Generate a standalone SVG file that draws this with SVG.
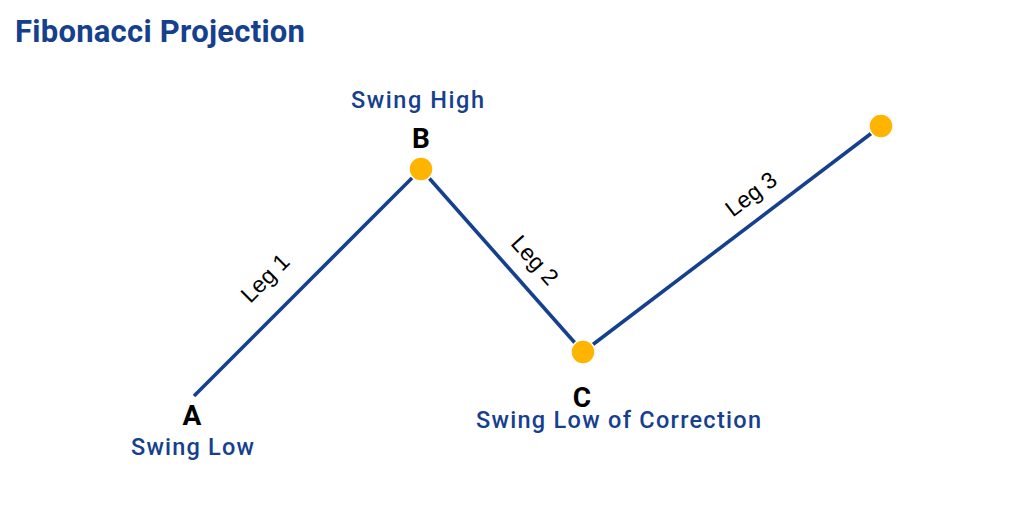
<svg xmlns="http://www.w3.org/2000/svg" width="1024" height="512" viewBox="0 0 1024 512">
<style>
.h{font-family:Roboto,"Liberation Sans",sans-serif;font-weight:700;fill:#15408e}
.t{font-family:Roboto,"Liberation Sans",sans-serif}
.blue{fill:#15408e;font-weight:500;font-size:23.500px}
.pt{fill:#000;font-weight:700;font-size:28px;text-anchor:middle}
.leg{font-family:"Liberation Sans",Arial,sans-serif;fill:#000;font-size:23px;text-anchor:middle}
.dot{fill:#ffb400;stroke:#fff;stroke-width:1.500}
.ln{fill:none;stroke:#15408e;stroke-width:3.600}
</style>
<rect width="1024" height="512" fill="#fff"/>
<text id="title" class="h" x="15" y="42" font-size="31" textLength="290" lengthAdjust="spacing">Fibonacci Projection</text>
<g id="connectors">
<path class="ln" d="M194 396L421 169"/>
<path class="ln" d="M421 169L583 352"/>
<path class="ln" d="M583 352L881 126"/>
</g>
<g id="node-a"><text class="t pt" x="192" y="425">A</text><text class="t blue" x="131" y="455" textLength="123" lengthAdjust="spacing">Swing Low</text></g>
<g id="node-b"><circle class="dot" cx="421" cy="169" r="12"/><text class="t pt" x="421" y="148">B</text><text class="t blue" x="351" y="108" textLength="133" lengthAdjust="spacing">Swing High</text></g>
<g id="node-c"><circle class="dot" cx="583" cy="352" r="12"/><text class="t pt" x="582" y="407">C</text><text class="t blue" x="476" y="428" textLength="285" lengthAdjust="spacing">Swing Low of Correction</text></g>
<g id="node-d"><circle class="dot" cx="881" cy="126" r="12"/></g>
<g id="labels">
<text class="leg" transform="translate(265 278) rotate(-45)" x="0" y="8">Leg 1</text>
<text class="leg" transform="translate(535 260) rotate(48)" x="0" y="8">Leg 2</text>
<text class="leg" transform="translate(751 194) rotate(-37)" x="0" y="8">Leg 3</text>
</g>
</svg>
